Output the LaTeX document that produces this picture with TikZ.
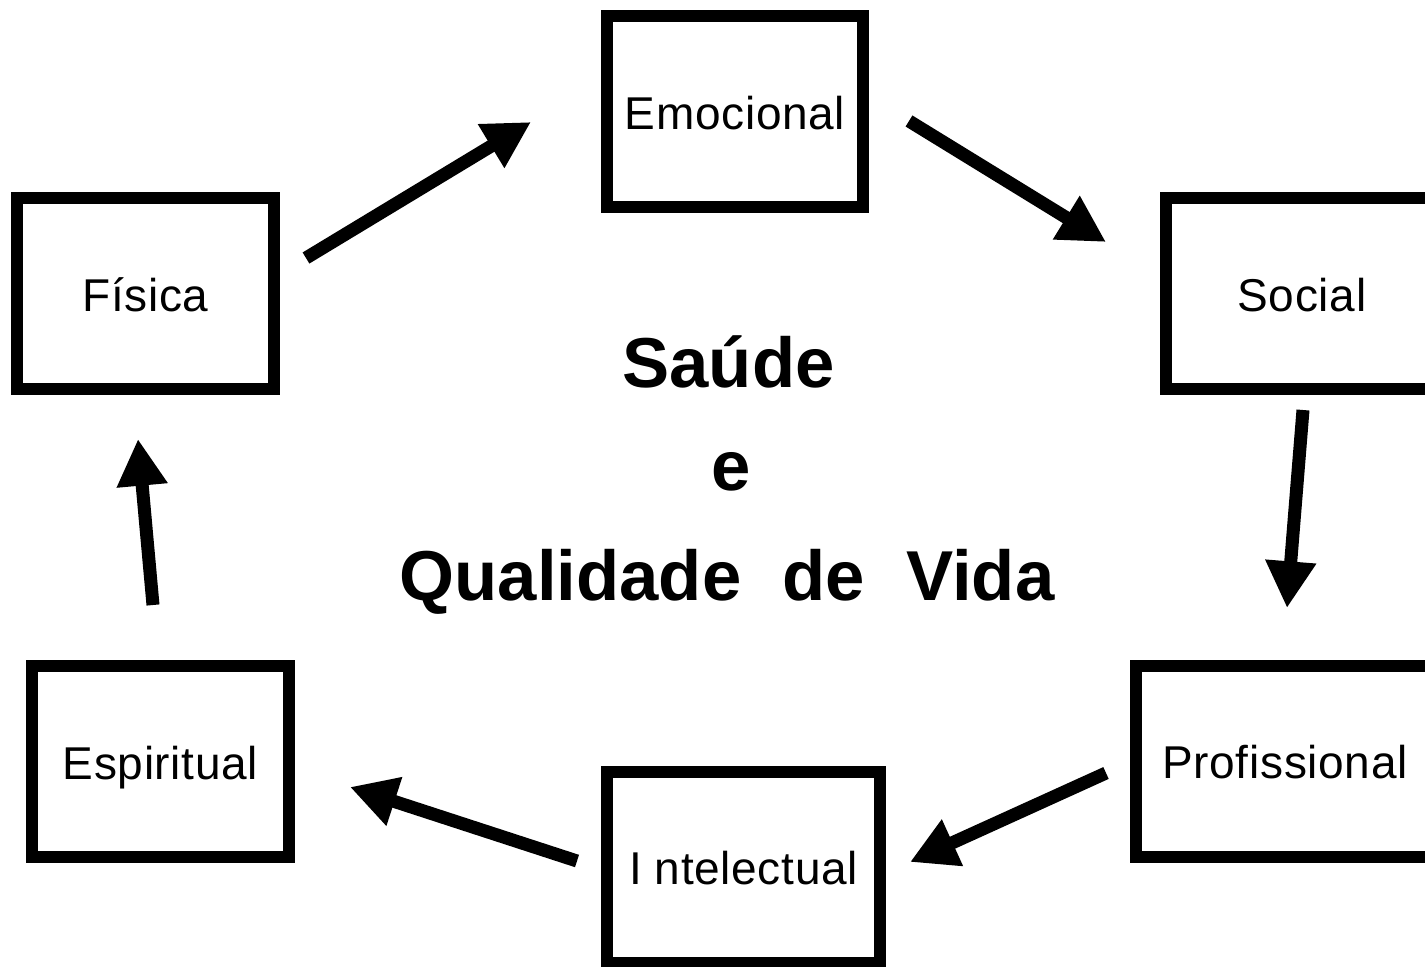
\documentclass[tikz,border=0pt]{standalone}
\usepackage{fontspec}
\setmainfont{Liberation Sans}
\newfontfamily\titlefont[WordSpace=2.1]{Liberation Sans}
\newfontfamily\boxfont[LetterSpace=1.5]{Liberation Sans}
\usetikzlibrary{arrows.meta}
\begin{document}
\begin{tikzpicture}[x=0.75pt,y=-0.75pt,
  box/.style={draw=black, line width=9pt, minimum height=143.25pt, inner sep=0pt,
    font=\boxfont\fontsize{34.5}{40}\selectfont, text height=26.25pt, text depth=0pt},
  flow/.style={line width=9.75pt, -{Triangle[width=36pt,length=35pt]}},
  title/.style={font=\titlefont\bfseries\fontsize{53}{60}\selectfont, anchor=base, inner sep=0pt}]
\useasboundingbox (0,0) rectangle (1425,967);
\fill[white] (0,0) rectangle (1425,967);
% boxes
\node[box, minimum width=192.75pt] (fis) at (145.5,293.5) {Física};
\node[box, minimum width=192pt]    (emo) at (735,111.5)   {Emocional};
\node[box, minimum width=204pt]    (soc) at (1302,293.5)  {Social};
\node[box, minimum width=223.5pt]  (pro) at (1285,761)    {Profissional};
\node[box, minimum width=204.75pt] (int) at (743.5,867)   {I\hspace{0.28em}ntelectual};
\node[box, minimum width=192.75pt] (esp) at (160.5,761.5) {Espiritual};
% title
\node[title] (t1) at (728.5,387) {Saúde};
\node[title] (t2) at (731,490) {e};
\node[title] (t3) at (727,600) {Qualidade de Vida};
% arrow ends
\coordinate (a1s) at (306,258);  \coordinate (a1e) at (531,122);
\coordinate (a2s) at (909,121);  \coordinate (a2e) at (1106,242);
\coordinate (a3s) at (1303,410); \coordinate (a3e) at (1287,608);
\coordinate (a4s) at (1106,773); \coordinate (a4e) at (910,862);
\coordinate (a5s) at (577,861);  \coordinate (a5e) at (350,787);
\coordinate (a6s) at (153,605);  \coordinate (a6e) at (138,439);
\draw[flow] (a1s) -- (a1e);
\draw[flow] (a2s) -- (a2e);
\draw[flow] (a3s) -- (a3e);
\draw[flow] (a4s) -- (a4e);
\draw[flow] (a5s) -- (a5e);
\draw[flow] (a6s) -- (a6e);
\end{tikzpicture}
\end{document}
